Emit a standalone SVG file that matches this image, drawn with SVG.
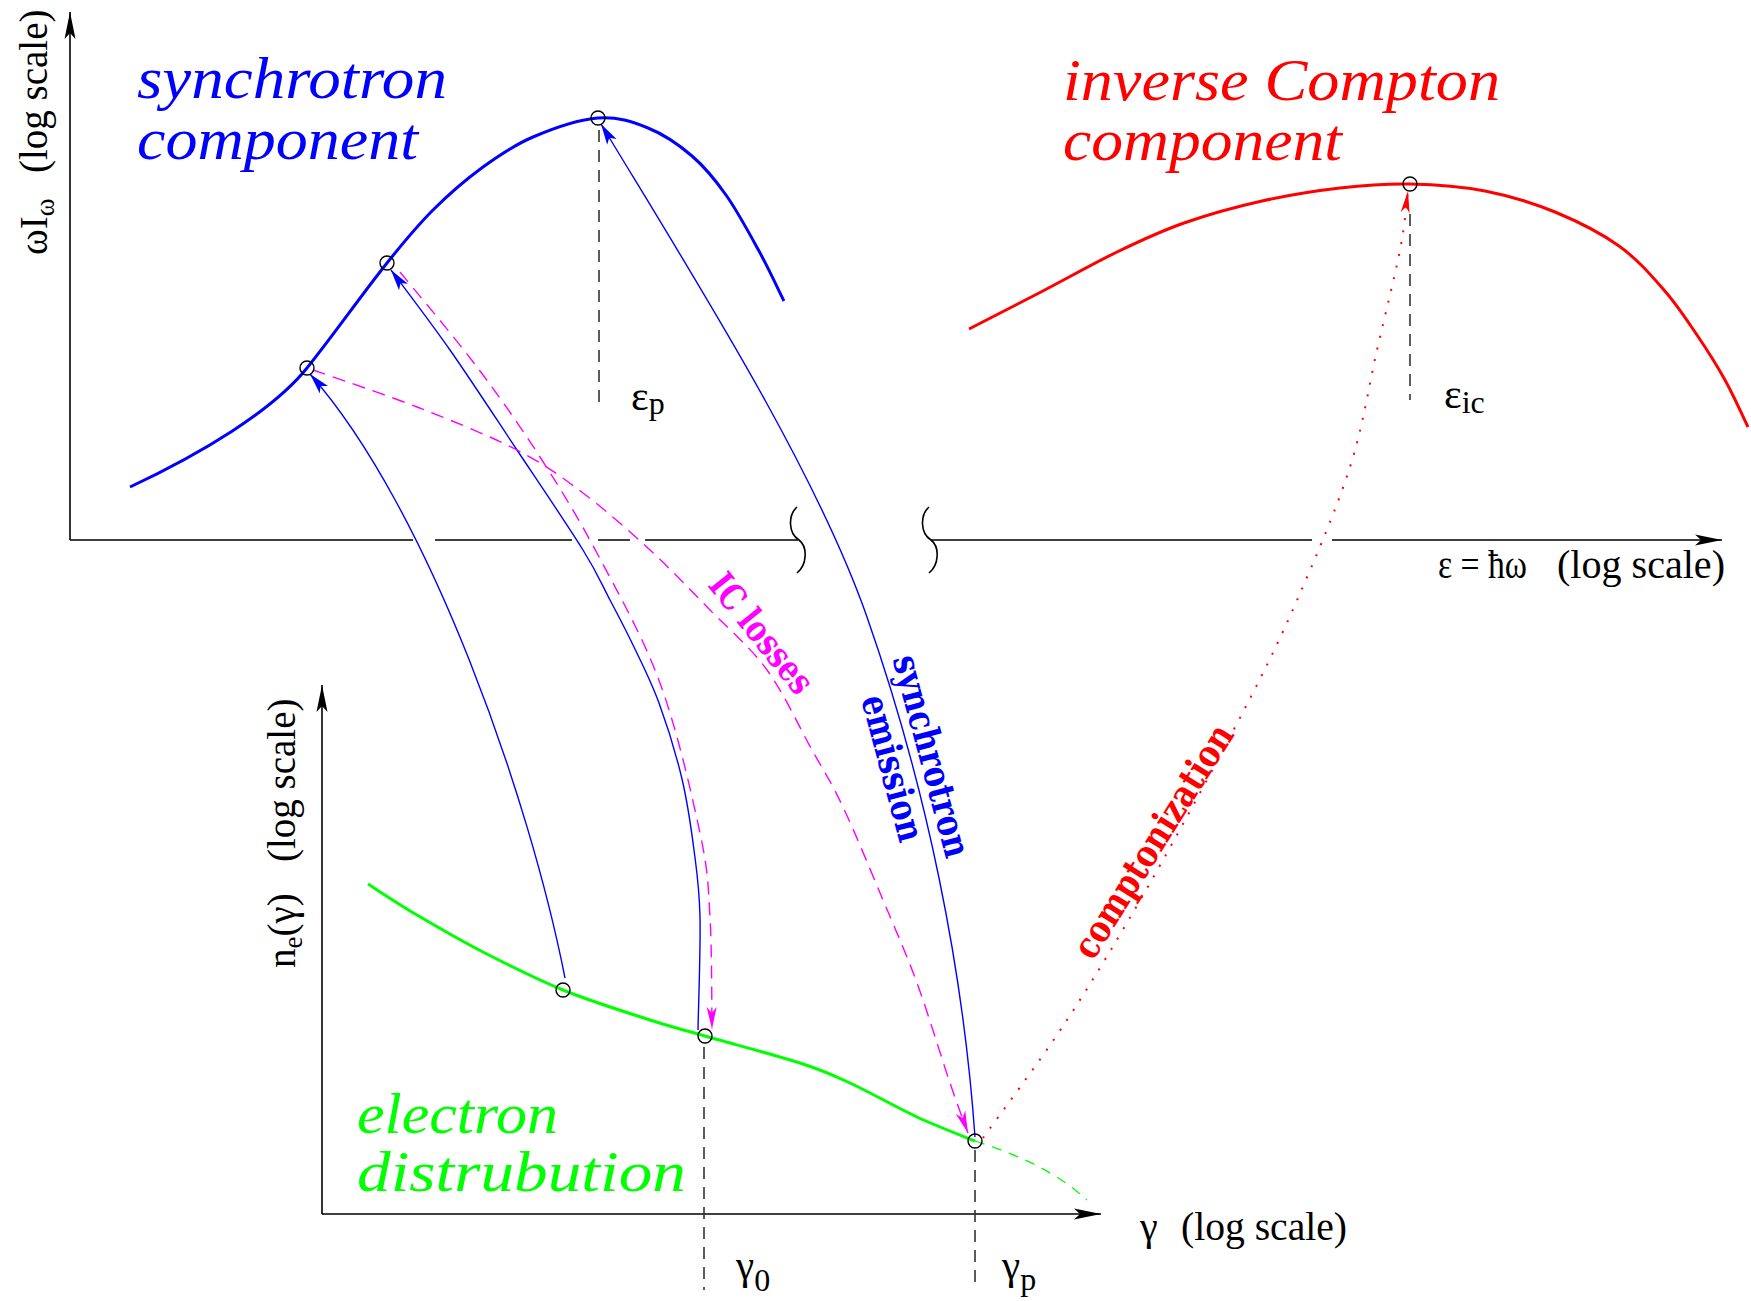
<svg xmlns="http://www.w3.org/2000/svg" width="1751" height="1301" viewBox="0 0 1751 1301">
<style>
.ax{fill:none;stroke:#000;stroke-width:1.6}
.vd{fill:none;stroke:#333;stroke-width:1.6;stroke-dasharray:12 8}
.pt{fill:none;stroke:#000;stroke-width:1.4}
.t{font-family:"Liberation Serif","Times New Roman",serif;fill:#000}
.it{font-family:"Liberation Serif","Times New Roman",serif;font-style:italic}
.bd{font-family:"DejaVu Serif","Liberation Serif",serif;font-weight:bold}
.syn{fill:none;stroke:#0000ff;stroke-width:1.4}
.icl{fill:none;stroke:#ff00ff;stroke-width:1.4;stroke-dasharray:13 8}
.cz{fill:none;stroke:#ff0000;stroke-width:2;stroke-dasharray:2 10}
.thick{fill:none;stroke-width:3;stroke-linecap:butt}
</style>
<defs>
<marker id="ah-axis" markerUnits="userSpaceOnUse" viewBox="-29 -7 31 14" markerWidth="31" markerHeight="14" refX="0" refY="0" orient="auto" overflow="visible"><path d="M0,0 L-27,-5.5 L-21,0 L-27,5.5 Z" fill="#000"/></marker>
<marker id="ah-blue" markerUnits="userSpaceOnUse" viewBox="-24 -8 26 16" markerWidth="26" markerHeight="16" refX="0" refY="0" orient="auto" overflow="visible"><path d="M0,0 L-21,-5.5 L-16,0 L-21,5.5 Z" fill="#0000ff"/></marker>
<marker id="ah-mag" markerUnits="userSpaceOnUse" viewBox="-24 -8 26 16" markerWidth="26" markerHeight="16" refX="0" refY="0" orient="auto" overflow="visible"><path d="M0,0 L-22,-5 L-16,0 L-22,5 Z" fill="#ff00ff"/></marker>
<marker id="ah-red" markerUnits="userSpaceOnUse" viewBox="-24 -8 26 16" markerWidth="26" markerHeight="16" refX="0" refY="0" orient="auto" overflow="visible"><path d="M0,0 L-22,-4.5 L-16,0 L-22,4.5 Z" fill="#ff0000"/></marker>
</defs>
<rect width="1751" height="1301" fill="#fff"/>

<g id="axes">
<path class="ax" d="M70,540 V12" marker-end="url(#ah-axis)"/>
<path class="ax" d="M70,540 H413 M435,540 H572 M598,540 H630 M645,540 H798"/>
<path class="ax" d="M797,507 C788,515 788,533 799,540 C808,547 807,565 797,573"/>
<path class="ax" d="M929,507 C920,515 920,533 931,540 C940,547 939,565 929,573"/>
<path class="ax" d="M931,540 H1312 M1332,540 H1722" marker-end="url(#ah-axis)"/>
<path class="ax" d="M322,1214 V685" marker-end="url(#ah-axis)"/>
<path class="ax" d="M322,1214 H1101" marker-end="url(#ah-axis)"/>
<text class="t" font-size="39" transform="translate(47,255) rotate(-90)">ωI<tspan font-size="27" dy="7">ω</tspan><tspan x="82" dy="-7">(log scale)</tspan></text>
<text class="t" font-size="40" x="1438" y="578" textLength="89" lengthAdjust="spacingAndGlyphs">ε = ħω</text>
<text class="t" font-size="40" x="1557" y="578" textLength="168" lengthAdjust="spacingAndGlyphs">(log scale)</text>
<text class="t" font-size="39" transform="translate(295,968) rotate(-90)">n<tspan font-size="27" dy="7">e</tspan><tspan dy="-7">(γ)</tspan><tspan x="106">(log scale)</tspan></text>
<text class="t" font-size="40" x="1140" y="1240">γ</text>
<text class="t" font-size="40" x="1181" y="1240" textLength="166" lengthAdjust="spacingAndGlyphs">(log scale)</text>
</g>

<g id="synchrotron-component">
<path class="thick" stroke="#0000ff" d="M130,487 C200,454 272,411.5 307,368 C334.6,333.7 359.6,297.4 387,263 C401.6,244.7 416.5,226.5 433,210 C449,194 466.3,179.2 483,167 C499.7,154.8 513.8,145.2 533,137 C552.2,128.8 578.8,119.5 598,118 C617.2,116.5 632.3,121.7 648,128 C663.7,134.3 679,144.8 692,156 C705,167.2 714.8,179.2 726,195 C737.2,210.8 749.3,233.3 759,251 C768.7,268.7 779.8,292.7 784,301"/>
<text class="it" font-size="60" fill="#0000ff" x="137" y="98" textLength="310" lengthAdjust="spacingAndGlyphs">synchrotron</text>
<text class="it" font-size="60" fill="#0000ff" x="137" y="159" textLength="281" lengthAdjust="spacingAndGlyphs">component</text>
<path class="vd" d="M599,130 V408"/>
<text class="t" font-size="42" x="631" y="410">ε<tspan font-size="32" dy="4">p</tspan></text>
</g>

<g id="inverse-compton-component">
<path class="thick" stroke="#ff0000" d="M969,329 C980.7,323 1014.3,305.8 1039,293 C1063.7,280.2 1092.8,263.7 1117,252 C1141.2,240.3 1159.8,231.5 1184,223 C1208.2,214.5 1236,206.8 1262,201 C1288,195.2 1315.3,190.8 1340,188 C1364.7,185.2 1385.8,183.5 1410,184 C1434.2,184.5 1460.8,186.3 1485,191 C1509.2,195.7 1532.7,202.8 1555,212 C1577.3,221.2 1600.8,233 1619,246 C1637.2,259 1651,275.2 1664,290 C1677,304.8 1686.8,320 1697,335 C1707.2,350 1716.5,364.7 1725,380 C1733.5,395.3 1744.2,419.2 1748,427"/>
<text class="it" font-size="60" fill="#ff0000" x="1063" y="100" textLength="437" lengthAdjust="spacingAndGlyphs">inverse Compton</text>
<text class="it" font-size="60" fill="#ff0000" x="1063" y="160" textLength="279" lengthAdjust="spacingAndGlyphs">component</text>
<path class="vd" d="M1410,214 V400"/>
<text class="t" font-size="42" x="1444" y="408">ε<tspan font-size="32" dy="5">ic</tspan></text>
</g>

<g id="electron-distribution">
<path class="thick" stroke="#00ff00" d="M368,884 C376.2,889.2 397.8,903.7 417,915 C436.2,926.3 458.7,939.5 483,952 C507.3,964.5 535.2,978.7 563,990 C590.8,1001.3 626.3,1012.3 650,1020 C673.7,1027.7 680,1028.8 705,1036 C730,1043.2 775.8,1055.2 800,1063 C824.2,1070.8 830.5,1074 850,1083 C869.5,1092 896.2,1107.3 917,1117 C937.8,1126.7 965.3,1137 975,1141"/>
<path fill="none" stroke="#00ff00" stroke-width="1.3" stroke-dasharray="10 8" d="M975,1141 C1010,1152 1055,1170 1087,1200"/>
<text class="it" font-size="56" fill="#00ff00" x="357" y="1133" textLength="201" lengthAdjust="spacingAndGlyphs">electron</text>
<text class="it" font-size="56" fill="#00ff00" x="357" y="1191" textLength="329" lengthAdjust="spacingAndGlyphs">distrubution</text>
<path class="vd" d="M704,1047 V1290"/>
<path class="vd" d="M975,1150 V1290"/>
<text class="t" font-size="41" x="736" y="1279">γ<tspan font-size="32" dy="12">0</tspan></text>
<text class="t" font-size="41" x="1002" y="1279">γ<tspan font-size="32" dy="11">p</tspan></text>
</g>

<g id="connectors">
<path class="syn" d="M565,978 C530,800 430,510 310,374" marker-end="url(#ah-blue)"/>
<path class="syn" d="M698,1030 C698.3,1011.2 700.7,947 700,917 C699.3,887 697,873 694,850 C691,827 687.8,803.5 682,779 C676.2,754.5 667.2,725.3 659,703 C650.8,680.7 641.2,662.2 633,645 C624.8,627.8 618.3,615.8 610,600 C601.7,584.2 598.5,575 583,550 C567.5,525 539.2,483.3 517,450 C494.8,416.7 471,380 450,350 C429,320 400.8,283.3 391,270" marker-end="url(#ah-blue)"/>
<path class="syn" d="M975,1137 C963,967 926.5,787 867,617 C814.5,467 693,276 601,124" marker-end="url(#ah-blue)"/>
<path class="icl" d="M313,370 C330.3,376.2 383,393.7 417,407 C451,420.3 489.3,435.7 517,450 C544.7,464.3 560.8,476.3 583,493 C605.2,509.7 628.8,530.5 650,550 C671.2,569.5 690.5,590 710,610 C729.5,630 750,646.7 767,670 C784,693.3 799.3,727.2 812,750 C824.7,772.8 831.2,782 843,807 C854.8,832 870.7,870.7 883,900 C895.3,929.3 905.8,952.5 917,983 C928.2,1013.5 941.5,1058 950,1083 C958.5,1108 965,1124.7 968,1133" marker-end="url(#ah-mag)"/>
<path class="icl" d="M400,272 C412.8,287.8 453.7,336.2 477,367 C500.3,397.8 519.8,425.7 540,457 C560.2,488.3 578,517.3 598,555 C618,592.7 643,636.7 660,683 C677,729.3 691.7,794 700,833 C708.3,872 708,884.3 710,917 C712,949.7 711.7,1010.3 712,1029" marker-end="url(#ah-mag)"/>
<path class="cz" d="M983,1138 C997,1118.3 1039.2,1062.5 1067,1020 C1094.8,977.5 1120.7,934.3 1150,883 C1179.3,831.7 1218.3,759.5 1243,712 C1267.7,664.5 1280.2,638.8 1298,598 C1315.8,557.2 1336.8,508.3 1350,467 C1363.2,425.7 1368.7,386.2 1377,350 C1385.3,313.8 1394.8,276.5 1400,250 C1405.2,223.5 1406.7,200.8 1408,191" marker-end="url(#ah-red)"/>
<text class="bd" font-size="36" fill="#ff00ff" text-anchor="middle" dominant-baseline="central" transform="translate(762,633) rotate(51)" textLength="143" lengthAdjust="spacingAndGlyphs">IC losses</text>
<text class="bd" font-size="37" fill="#0000ff" text-anchor="middle" dominant-baseline="central" transform="translate(932,756) rotate(75)" textLength="208" lengthAdjust="spacingAndGlyphs">synchrotron</text>
<text class="bd" font-size="37" fill="#0000ff" text-anchor="middle" dominant-baseline="central" transform="translate(893,768) rotate(75)" textLength="150" lengthAdjust="spacingAndGlyphs">emission</text>
<text class="bd" font-size="37" fill="#ff0000" text-anchor="middle" dominant-baseline="central" transform="translate(1153,841) rotate(-58)" textLength="268" lengthAdjust="spacingAndGlyphs">comptonization</text>
</g>

<g id="points">
<circle class="pt" cx="307" cy="368" r="7"/>
<circle class="pt" cx="387" cy="263" r="7"/>
<circle class="pt" cx="598" cy="118" r="7"/>
<circle class="pt" cx="1410" cy="184" r="7"/>
<circle class="pt" cx="563" cy="990" r="7"/>
<circle class="pt" cx="705" cy="1036" r="7"/>
<circle class="pt" cx="975" cy="1141" r="7"/>
</g>
</svg>
